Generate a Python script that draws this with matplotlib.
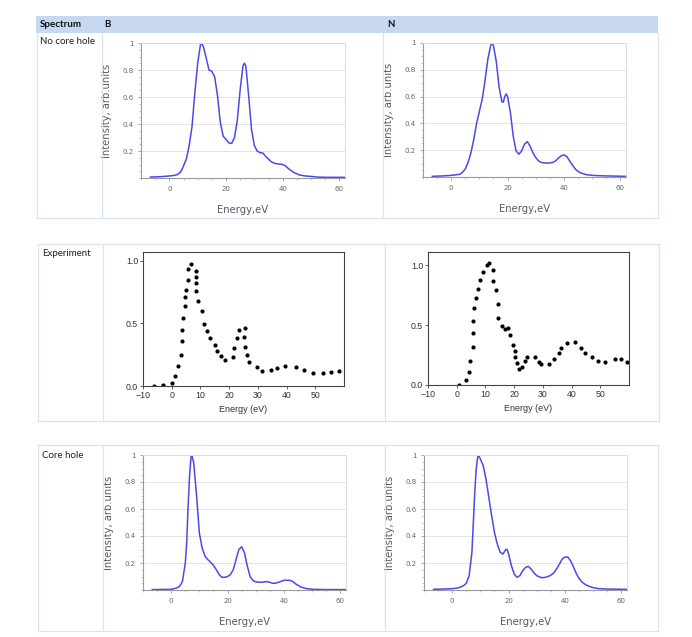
import matplotlib
matplotlib.use("Agg")
import matplotlib.pyplot as plt
from matplotlib.patches import Rectangle
from matplotlib.lines import Line2D
from matplotlib.ticker import MultipleLocator

# ---------------- data ----------------
col_headers = ["Spectrum", "B", "N"]
row_labels = ["No core hole", "Experiment", "Core hole"]

# B, no core hole (calculated)
b_nch_e = [-6.7, -3, 0, 2, 3, 4, 4.5, 5, 6, 7, 8, 9, 10, 11, 11.3, 12, 13, 14, 15, 16, 17, 18, 19, 20,
           21, 22, 23, 24, 25, 26, 26.5, 27, 28, 29, 30, 31, 32, 33, 34, 35, 36, 37, 38, 40, 41, 42,
           44, 46, 48, 50, 52, 56, 62]
b_nch_i = [0.007, 0.01, 0.015, 0.02, 0.027, 0.045, 0.064, 0.09, 0.14, 0.24, 0.38, 0.63, 0.85, 0.99, 1.0,
           0.975, 0.89, 0.80, 0.79, 0.75, 0.61, 0.41, 0.31, 0.286, 0.26, 0.256, 0.30, 0.43, 0.655, 0.83,
           0.85, 0.83, 0.61, 0.36, 0.24, 0.20, 0.187, 0.185, 0.16, 0.14, 0.12, 0.11, 0.105, 0.10, 0.09,
           0.07, 0.04, 0.022, 0.015, 0.012, 0.007, 0.005, 0.005]

# N, no core hole (calculated)
n_nch_e = [-6.7, -3, 0, 3, 4, 5, 6, 7, 8, 9, 10, 11, 12, 13, 14, 14.5, 15, 16, 17, 18, 18.5, 19, 19.5,
           20, 21, 22, 23, 24, 25, 26, 27, 28, 29, 30, 31, 32, 34, 36, 37, 38, 39, 40, 41, 42, 43, 44,
           45, 46, 48, 50, 55, 62]
n_nch_i = [0.005, 0.008, 0.012, 0.02, 0.035, 0.06, 0.11, 0.18, 0.28, 0.40, 0.49, 0.58, 0.72, 0.88, 0.98,
           1.0, 0.98, 0.86, 0.67, 0.56, 0.56, 0.60, 0.62, 0.60, 0.48, 0.305, 0.195, 0.17, 0.195, 0.245,
           0.264, 0.23, 0.18, 0.145, 0.12, 0.108, 0.103, 0.108, 0.12, 0.14, 0.158, 0.165, 0.153, 0.12,
           0.089, 0.06, 0.042, 0.03, 0.017, 0.012, 0.008, 0.005]

# B, core hole (calculated)
b_ch_e = [-6.7, -3, 0, 2, 3, 4, 5, 5.5, 6, 6.5, 7, 7.3, 8, 9, 10, 11, 12, 13, 14, 15, 16, 17, 18, 19,
          20, 21, 22, 23, 24, 25, 26, 27, 28, 29, 30, 32, 34, 35, 36, 37, 38, 39, 40, 42, 43, 44, 46,
          48, 50, 55, 62]
b_ch_i = [0.003, 0.004, 0.005, 0.015, 0.027, 0.064, 0.20, 0.35, 0.62, 0.84, 0.98, 1.0, 0.94, 0.70, 0.42,
          0.31, 0.25, 0.225, 0.205, 0.183, 0.15, 0.114, 0.094, 0.094, 0.10, 0.114, 0.15, 0.225, 0.30,
          0.32, 0.275, 0.176, 0.10, 0.07, 0.06, 0.057, 0.062, 0.057, 0.05, 0.05, 0.057, 0.064, 0.072,
          0.072, 0.064, 0.047, 0.022, 0.01, 0.005, 0.003, 0.003]

# N, core hole (calculated)
n_ch_e = [-6.6, -3, 0, 2, 3, 4, 5, 6, 7, 7.5, 8, 8.5, 9, 9.3, 10, 11, 12, 13, 14, 15, 16, 17, 18, 19,
          19.5, 20, 21, 22, 23, 24, 25, 26, 27, 28, 29, 30, 31, 32, 33, 34, 35, 36, 37, 38, 39, 40,
          41, 42, 43, 44, 45, 46, 47, 48, 50, 52, 55, 62]
n_ch_i = [0.005, 0.007, 0.01, 0.015, 0.022, 0.032, 0.05, 0.105, 0.28, 0.50, 0.72, 0.89, 0.98, 1.0, 0.97,
          0.92, 0.82, 0.685, 0.55, 0.425, 0.34, 0.28, 0.266, 0.30, 0.30, 0.266, 0.18, 0.118, 0.094,
          0.106, 0.143, 0.167, 0.175, 0.155, 0.126, 0.106, 0.096, 0.091, 0.094, 0.10, 0.11, 0.126,
          0.155, 0.19, 0.23, 0.244, 0.244, 0.217, 0.172, 0.123, 0.086, 0.06, 0.044, 0.032, 0.017,
          0.01, 0.007, 0.005]

# B, experiment
b_exp_e = [-6.1, -3.2, 0.0, 1.3, 2.2, 3.3, 3.6, 3.6, 4.0, 4.7, 4.7, 5.1, 5.5, 5.5, 6.7, 8.4, 8.4, 8.4,
           8.4, 9.0, 10.5, 11.3, 12.4, 13.5, 15.2, 15.7, 17.2, 18.6, 21.4, 21.8, 22.6, 23.4, 25.1,
           25.5, 25.5, 26.3, 26.8, 29.6, 31.3, 34.6, 36.6, 39.5, 43.2, 46.1, 49.1, 52.7, 55.6, 58.2]
b_exp_i = [0.0, 0.01, 0.024, 0.08, 0.16, 0.25, 0.36, 0.45, 0.545, 0.64, 0.71, 0.77, 0.845, 0.935, 0.973,
           0.92, 0.87, 0.82, 0.755, 0.68, 0.60, 0.495, 0.44, 0.38, 0.33, 0.28, 0.243, 0.21, 0.233,
           0.307, 0.38, 0.45, 0.39, 0.46, 0.313, 0.25, 0.19, 0.152, 0.118, 0.126, 0.144, 0.158, 0.152,
           0.131, 0.107, 0.107, 0.112, 0.12]

# N, experiment
n_exp_e = [0.8, 3.2, 4.4, 4.8, 5.5, 5.5, 5.6, 6.0, 6.6, 7.4, 8.1, 9.0, 10.4, 11.4, 12.6, 12.6, 13.6, 14.3,
           14.5, 15.8, 16.9, 17.8, 18.4, 19.7, 20.4, 20.4, 21.1, 21.7, 22.6, 23.8, 24.6, 27.2, 28.6,
           29.4, 32.0, 33.8, 35.5, 36.4, 38.4, 41.3, 43.3, 44.8, 47.2, 49.2, 51.6, 55.0, 57.3, 59.4]
n_exp_i = [0.0, 0.045, 0.11, 0.20, 0.315, 0.43, 0.53, 0.646, 0.724, 0.80, 0.875, 0.94, 1.003, 1.017, 0.96,
           0.87, 0.79, 0.68, 0.56, 0.496, 0.465, 0.473, 0.42, 0.334, 0.28, 0.234, 0.184, 0.134, 0.15,
           0.20, 0.237, 0.237, 0.195, 0.173, 0.173, 0.214, 0.265, 0.312, 0.348, 0.362, 0.312, 0.27,
           0.234, 0.20, 0.195, 0.214, 0.214, 0.195]

calc_yticks = [0.2, 0.4, 0.6, 0.8, 1.0]
calc_yticklabels = ["0.2", "0.4", "0.6", "0.8", "1"]
calc_xticks = [0, 20, 40, 60]
exp_xticks = [-10, 0, 10, 20, 30, 40, 50]
exp_yticks = [0.0, 0.5, 1.0]

# ---------------- figure ----------------
W, H = 692, 637
fig = plt.figure(figsize=(W / 100, H / 100), dpi=100)
fig.patch.set_facecolor("white")


def fx(x):
    return x / W


def fy(y):
    return 1 - y / H


def px_axes(x0, y0, x1, y1):
    return fig.add_axes([fx(x0), fy(y1), (x1 - x0) / W, (y1 - y0) / H])


table_line = "#d9e3f3"
# header band
fig.add_artist(Rectangle((fx(36), fy(33)), (658 - 36) / W, (33 - 16) / H,
                         transform=fig.transFigure, facecolor="#c6d9f1", edgecolor="none"))


def hline(x0, x1, y):
    fig.add_artist(Line2D([fx(x0), fx(x1)], [fy(y), fy(y)], transform=fig.transFigure,
                          color=table_line, lw=0.9))


def vline(x, y0, y1):
    fig.add_artist(Line2D([fx(x), fx(x)], [fy(y0), fy(y1)], transform=fig.transFigure,
                          color=table_line, lw=0.9))


# row 1 borders
hline(36, 658, 218)
vline(37, 33, 218)
vline(102, 33, 218)
vline(383, 33, 218)
vline(658, 33, 218)
# row 2 borders
hline(38, 659, 244)
hline(38, 659, 421)
for xv in (38, 103, 385, 659):
    vline(xv, 244, 421)
# row 3 borders
hline(38, 658, 445)
hline(38, 658, 631)
for xv in (38, 103, 385, 658):
    vline(xv, 445, 631)

tfont = ["Lato", "DejaVu Sans"]
fig.text(fx(40), fy(24.5), col_headers[0], fontsize=7, fontweight="bold", family=tfont,
         va="center", ha="left", color="#111111")
fig.text(fx(104), fy(24.5), col_headers[1], fontsize=7, fontweight="bold", family=tfont,
         va="center", ha="left", color="#111111")
fig.text(fx(387), fy(24.5), col_headers[2], fontsize=7, fontweight="bold", family=tfont,
         va="center", ha="left", color="#111111")
fig.text(fx(40), fy(42), row_labels[0], fontsize=7, family=tfont, va="center", ha="left", color="#222222")
fig.text(fx(42), fy(253), row_labels[1], fontsize=7, family=tfont, va="center", ha="left", color="#222222")
fig.text(fx(42), fy(456), row_labels[2], fontsize=7, family=tfont, va="center", ha="left", color="#222222")

curve_color = "#4a4ae6"
gray = "#5a5a5a"


def calc_panel(x0, y0, x1, y1, e, i):
    ax = px_axes(x0, y0, x1, y1)
    ax.plot(e, i, color=curve_color, lw=1.1, solid_joinstyle="round")
    ax.set_xlim(-10, 62)
    ax.set_ylim(0, 1.0)
    ax.set_yticks(calc_yticks)
    ax.set_yticklabels(calc_yticklabels)
    ax.set_xticks(calc_xticks)
    ax.xaxis.set_minor_locator(MultipleLocator(5))
    ax.yaxis.set_minor_locator(MultipleLocator(0.05))
    ax.grid(axis="y", color="#e3e3e3", lw=0.7)
    ax.set_axisbelow(True)
    for s in ("top", "right"):
        ax.spines[s].set_color("#dddddd")
        ax.spines[s].set_linewidth(0.7)
    for s in ("left", "bottom"):
        ax.spines[s].set_color("#999999")
        ax.spines[s].set_linewidth(0.8)
    ax.tick_params(axis="both", which="major", labelsize=5, colors="#999999", labelcolor="#666666",
                   length=2.5, width=0.6, direction="out", pad=3)
    ax.tick_params(axis="both", which="minor", colors="#aaaaaa", length=1.5, width=0.5,
                   direction="out")
    ax.set_xlabel("Energy,eV", fontsize=7.2, color=gray, family="DejaVu Sans")
    ax.set_ylabel("Intensity, arb.units", fontsize=7.2, color=gray, family="DejaVu Sans")
    wpx = x1 - x0
    hpx = y1 - y0
    ax.yaxis.set_label_coords(-29 / wpx, 0.5)
    ax.xaxis.set_label_coords(0.5, -27 / hpx)
    return ax


def exp_panel(x0, y0, x1, y1, e, i, ytop):
    ax = px_axes(x0, y0, x1, y1)
    ax.plot(e, i, "o", color="black", ms=3.0, mec="none")
    ax.set_xlim(-10, 60)
    ax.set_ylim(0, ytop)
    ax.set_xticks(exp_xticks)
    ax.set_yticks(exp_yticks)
    ax.set_yticklabels(["0.0", "0.5", "1.0"])
    for s in ax.spines.values():
        s.set_color("#444444")
        s.set_linewidth(0.8)
    ax.tick_params(axis="both", labelsize=6.3, colors="#444444", labelcolor="#333333",
                   length=2.5, width=0.6, direction="out", pad=1)
    for lab in ax.get_xticklabels() + ax.get_yticklabels():
        lab.set_family("Liberation Sans")
    ax.set_xlabel("Energy (eV)", fontsize=6.5, color="#333333", family="Liberation Sans")
    hpx = y1 - y0
    ax.xaxis.set_label_coords(0.5, -19 / hpx)
    return ax


calc_panel(141, 43, 345, 178, b_nch_e, b_nch_i)
calc_panel(423, 43, 626, 177, n_nch_e, n_nch_i)
exp_panel(143, 252, 344, 386, b_exp_e, b_exp_i, 1.07)
exp_panel(428, 252, 629, 385, n_exp_e, n_exp_i, 1.11)
calc_panel(143, 455, 346, 590, b_ch_e, b_ch_i)
calc_panel(424, 455, 627, 590, n_ch_e, n_ch_i)

fig.savefig("out.png", dpi=100)
